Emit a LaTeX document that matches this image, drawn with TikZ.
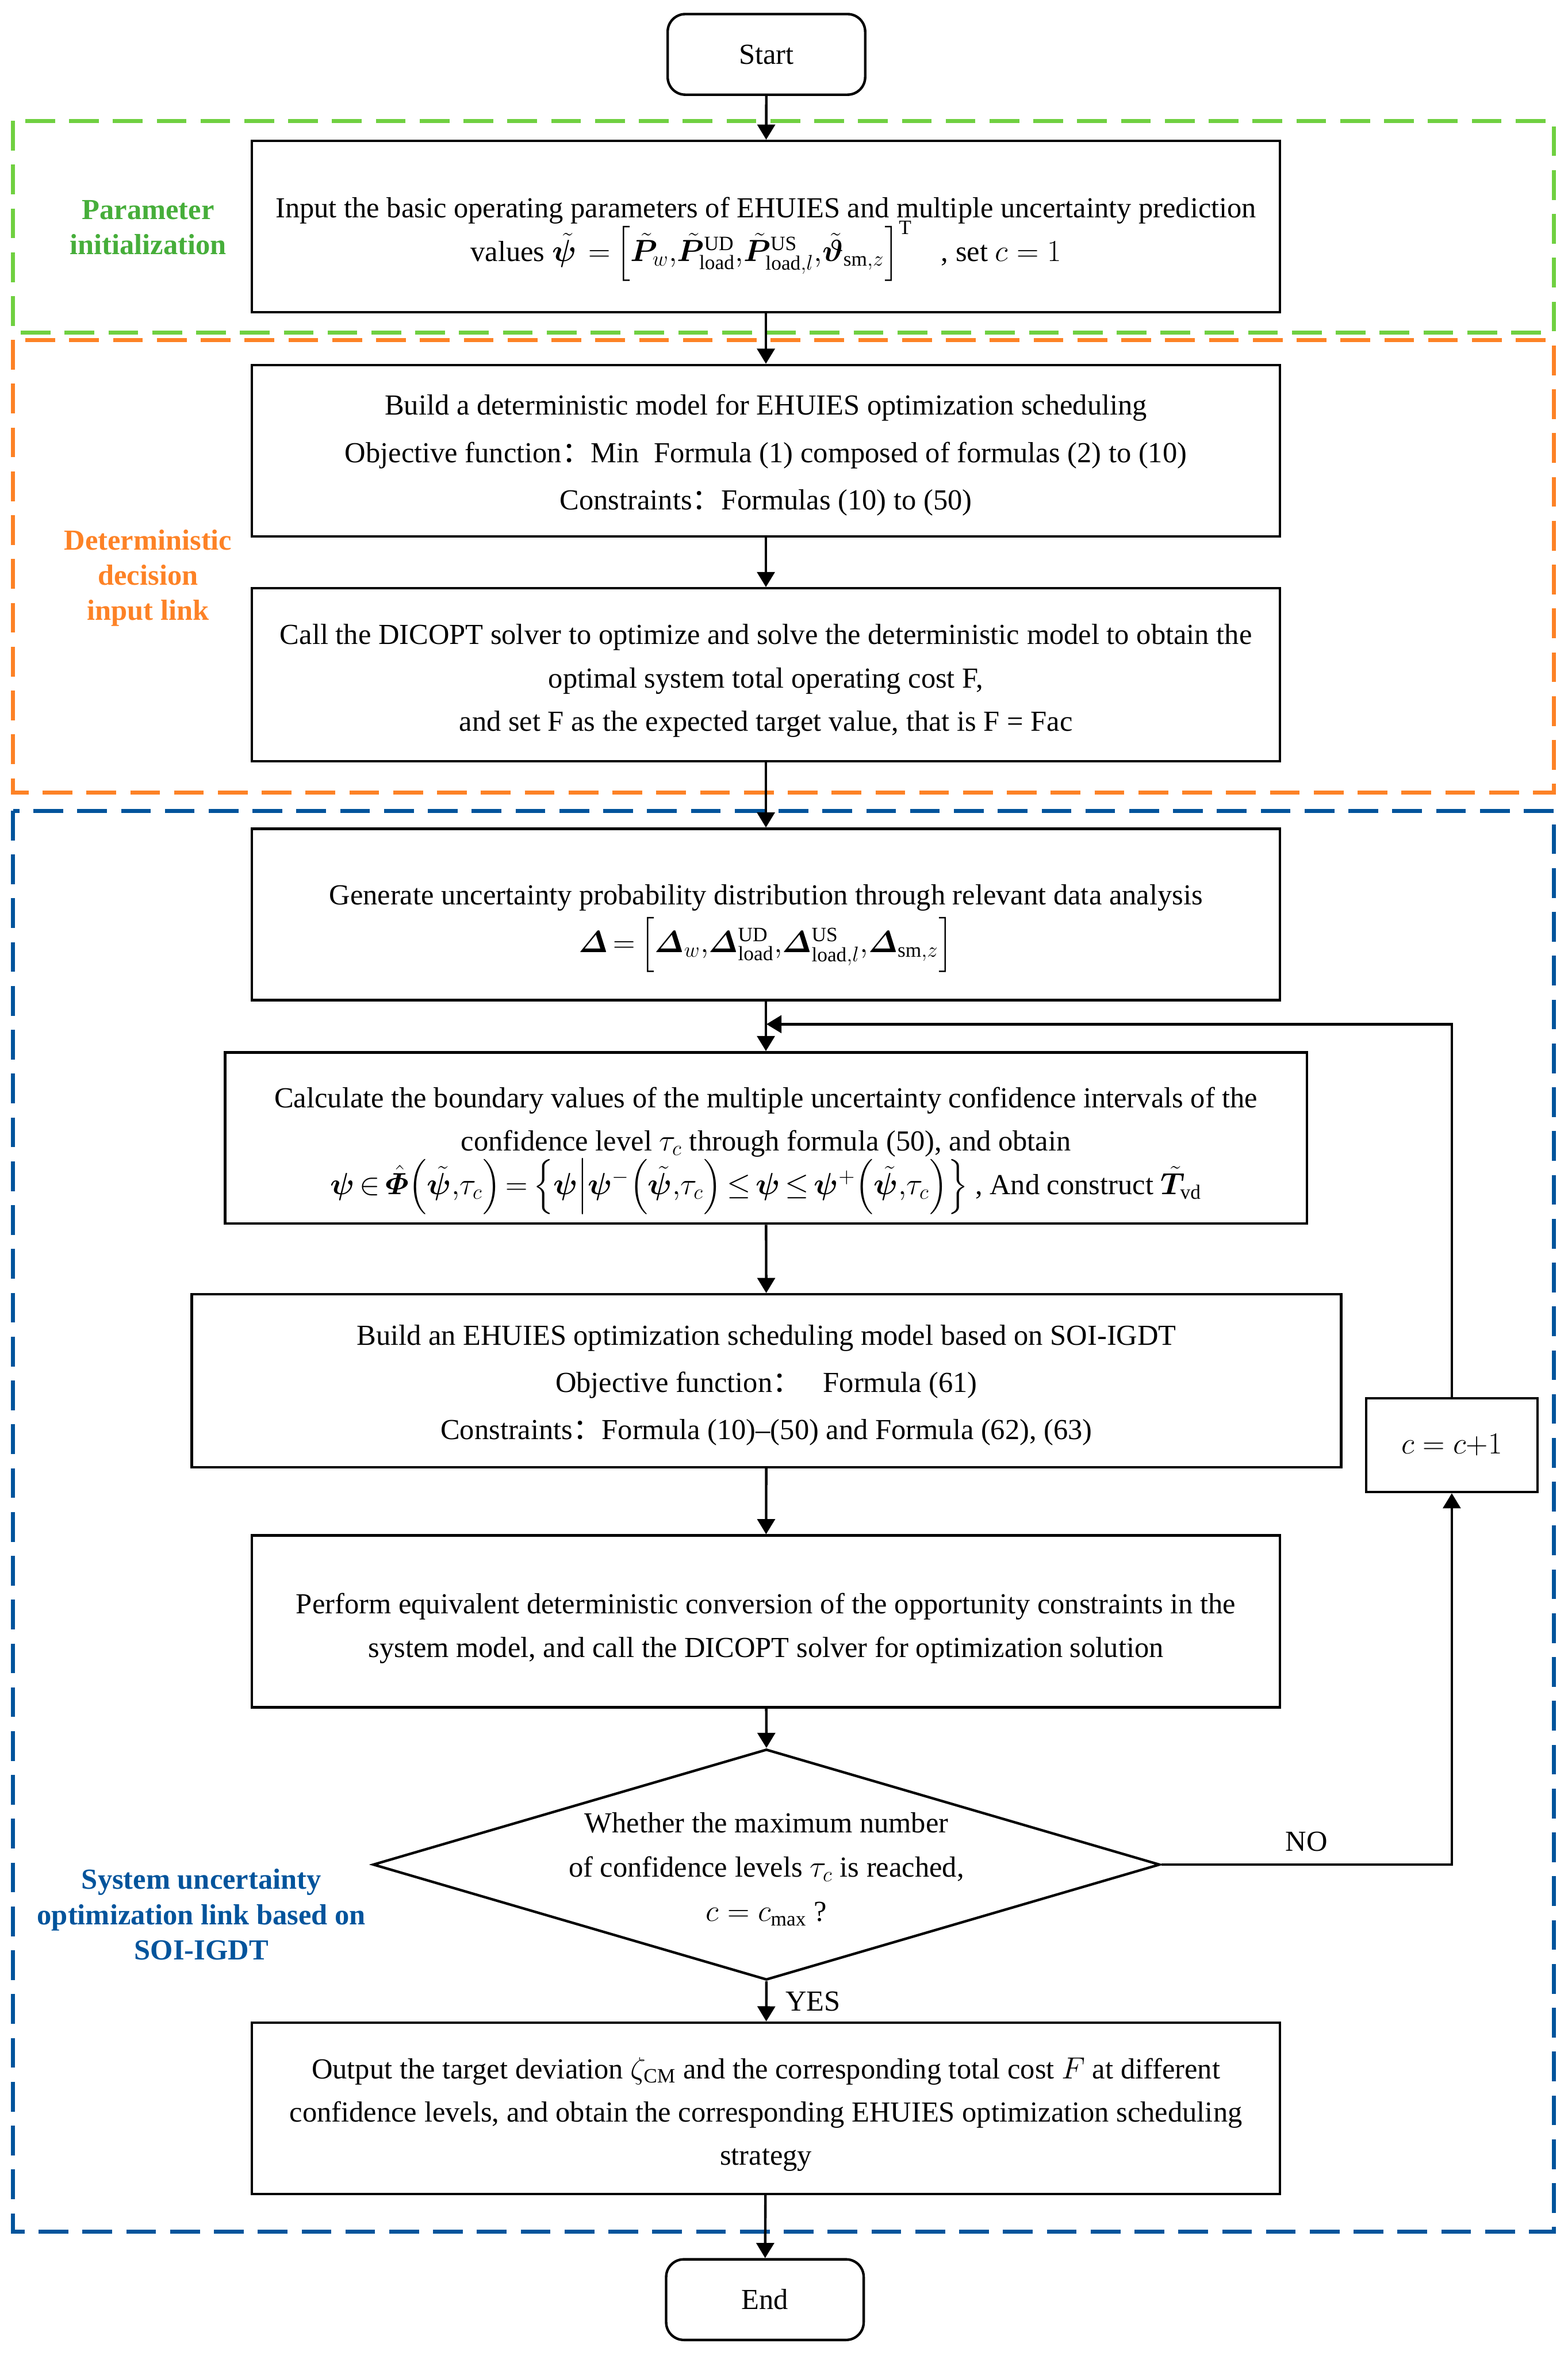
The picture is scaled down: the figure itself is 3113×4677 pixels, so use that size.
\documentclass[tikz,border=0pt]{standalone}
\usepackage{amsmath}
\usepackage{bm}
\usepackage{fontspec}
\setmainfont{Liberation Serif}
\newfontfamily\cjk{Noto Sans CJK SC}
\usetikzlibrary{arrows.meta,shapes.geometric,calc}
\definecolor{gdash}{RGB}{112,208,65}
\definecolor{gtext}{RGB}{70,174,58}
\definecolor{odash}{RGB}{253,130,38}
\definecolor{bdash}{RGB}{2,84,156}
\newcommand{\fwc}{{\cjk ：}}
\newcommand{\tightmath}{\thinmuskip=0mu \medmuskip=2mu \thickmuskip=3mu}
\begin{document}
\begin{tikzpicture}[x=0.01cm,y=-0.01cm,
  every node/.style={font=\fontsize{16.4}{24.5}\selectfont},
  box/.style={draw,line width=1.42pt,inner sep=0pt,minimum width=20.4cm,minimum height=3.4cm},
  txt/.style={align=center,inner sep=0pt},
  term/.style={draw,line width=1.42pt,rounded corners=0.35cm,minimum width=3.92cm,minimum height=1.6cm,inner sep=0pt},
  arr/.style={line width=1.42pt,-{Triangle[width=0.35cm,length=0.3cm]}},
  frame/.style={line width=2.28pt,dash pattern=on 0.59cm off 0.28cm},
  lab/.style={font=\fontsize{16.4}{19.9}\selectfont\bfseries,align=center},
  wide/.style={font=\fontsize{16.4}{26.7}\selectfont},
]
\path[use as bounding box] (0,0) rectangle (3113,4677);

% dashed frames
\draw[frame,gdash] (26,240) rectangle (3086,660);
\draw[frame,odash] (26,675) rectangle (3086,1574);
\draw[frame,bdash] (26,1610) rectangle (3086,4432);

% side labels
\node[lab,text=gtext] (lg) at (294,452) {Parameter\\initialization};
\node[lab,text=odash] (lo) at (294,1148) {Deterministic\\decision\\input link};
\node[lab,text=bdash] (lb) at (400,3802) {System uncertainty\\optimization link based on\\SOI-IGDT};

% boxes
\node[term] (start) at (1522,108) {Start};
\node[box] (b1) at (1521,450) {};
\node[box] (b2) at (1521,895) {};
\node[box,minimum height=3.43cm] (b3) at (1521,1340) {};
\node[box] (b4) at (1521,1816) {};
\node[box,minimum width=21.47cm] (b5) at (1521,2260) {};
\node[box,minimum width=22.81cm,minimum height=3.43cm] (b6) at (1522,2742) {};
\node[box,minimum height=3.41cm] (b7) at (1521,3220) {};
\node[draw,diamond,line width=1.42pt,inner sep=0pt,minimum width=15.62cm,minimum height=4.58cm] (dia) at (1522,3703) {};
\node[box] (b8) at (1521,4187) {};
\node[term] (end) at (1519,4567) {End};
\node[draw,line width=1.42pt,minimum width=3.4cm,minimum height=1.86cm,inner sep=0pt] (cbox) at (2883,2870) {$c=c{+}1$};

% texts
\node[txt] (t1) at (1521,475) {Input the basic operating parameters of EHUIES and multiple uncertainty prediction\\[-0.09cm]
values $\tightmath\tilde{\bm\psi}\ =\left[\tilde{\bm P}_{w},\tilde{\bm P}^{\mathrm{UD}}_{\mathrm{load}},\tilde{\bm P}^{\mathrm{US}}_{\mathrm{load},l},\tilde{\bm\vartheta}_{\mathrm{sm},z}\right]^{\mathrm T}$\quad, set $c=1$};
\node[txt,wide] (t2) at (1521,904) {Build a deterministic model for EHUIES optimization scheduling\\
Objective function\fwc Min\ \ Formula (1) composed of formulas (2) to (10)\\
Constraints\fwc Formulas (10) to (50)};
\node[txt] (t3) at (1521,1352) {Call the DICOPT solver to optimize and solve the deterministic model to obtain the\\
optimal system total operating cost F,\\
and set F as the expected target value, that is F = Fac};
\node[txt] (t4) at (1521,1844) {Generate uncertainty probability distribution through relevant data analysis\\[0.09cm]
$\tightmath\bm\varDelta=\left[\bm\varDelta_{w},\bm\varDelta^{\mathrm{UD}}_{\mathrm{load}},\bm\varDelta^{\mathrm{US}}_{\mathrm{load},l},\bm\varDelta_{\mathrm{sm},z}\right]$};
\node[txt] (t5) at (1521,2285) {Calculate the boundary values of the multiple uncertainty confidence intervals of the\\
confidence level $\tau_c$ through formula (50), and obtain\\
$\tightmath\bm\psi\in\hat{\bm\varPhi}\left(\tilde{\bm\psi},\tau_c\right)=\left\{\bm\psi\middle|\bm\psi^{-}\left(\tilde{\bm\psi},\tau_c\right)\le\bm\psi\le\bm\psi^{+}\left(\tilde{\bm\psi},\tau_c\right)\right\}$ , And construct $\tilde{\bm T}_{\mathrm{vd}}$};
\node[txt,wide] (t6) at (1522,2751) {Build an EHUIES optimization scheduling model based on SOI-IGDT\\
Objective function\fwc\ \ \ Formula (61)\\
Constraints\fwc Formula (10)--(50) and Formula (62), (63)};
\node[txt] (t7) at (1521,3234) {Perform equivalent deterministic conversion of the opportunity constraints in the\\
system model, and call the DICOPT solver for optimization solution};
\node[txt,font=\fontsize{16.4}{25}\selectfont] (diat) at (1522,3712) {Whether the maximum number\\
of confidence levels $\tau_c$ is reached,\\
$c=c_{\max}$ ?};
\node[txt] (t8) at (1521,4199) {Output the target deviation $\zeta_{\mathrm{CM}}$ and the corresponding total cost $F$ at different\\
confidence levels, and obtain the corresponding EHUIES optimization scheduling\\
strategy};

\coordinate (j) at (1522,2034);

% connectors
\draw[arr] (start) -- (b1);
\draw[arr] (b1) -- (b2);
\draw[arr] (b2) -- (b3);
\draw[arr] (b3) -- (b4);
\draw[arr] (b4) -- (b5);
\draw[arr] (b5) -- (b6);
\draw[arr] (b6) -- (b7);
\draw[arr] (b7) -- (dia.north);
\draw[arr] (dia.south) -- (b8) node[pos=0.5,right=0.24cm] (yes) {YES};
\draw[arr] (b8) -- (end);
\draw[arr] (dia.east) -| (cbox.south) node[pos=0.25,above=0.12cm] (no) {NO};
\draw[arr] (cbox.north) |- (j);
\end{tikzpicture}
\end{document}
